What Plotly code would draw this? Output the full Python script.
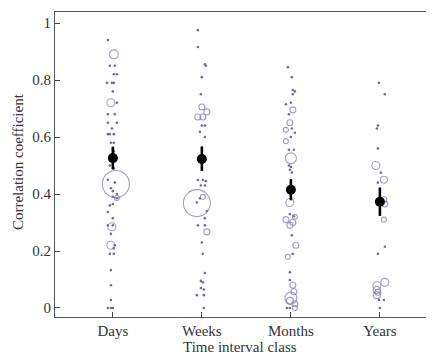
import plotly.graph_objects as go

categories = ["Days", "Weeks", "Months", "Years"]

# mean correlation per class and its error half-width
means = [0.526, 0.523, 0.415, 0.373]
errors = [0.040, 0.042, 0.037, 0.050]

# individual studies shown as small dots (value, jitter in category units)
days_dot_r = [0.94, 0.85, 0.85, 0.82, 0.82, 0.79, 0.79, 0.79, 0.76, 0.72, 0.68, 0.68, 0.65, 0.65,
              0.63, 0.61, 0.61, 0.61, 0.58, 0.58, 0.555, 0.55, 0.50, 0.49, 0.45, 0.42, 0.41, 0.44,
              0.40, 0.39, 0.385, 0.36, 0.365, 0.337, 0.315, 0.29, 0.29, 0.26, 0.22, 0.21, 0.19, 0.19,
              0.133, 0.08, 0.028, 0.0, 0.0, 0.0]
days_dot_j = [-0.056, -0.034, 0.022, 0.011, 0.045, -0.067, -0.011, 0.011, 0.0, 0.045, -0.056, 0.022,
              -0.056, 0.045, -0.011, -0.056, -0.034, 0.011, -0.022, 0.011, 0.0, 0.011, -0.034, 0.011,
              -0.056, -0.022, 0.0, 0.022, 0.045, 0.0, 0.045, -0.034, 0.0, -0.056, 0.0, -0.056, 0.0,
              -0.022, 0.022, 0.011, -0.034, 0.011, -0.022, -0.022, -0.022, -0.056, -0.022, 0.0]
days_circ_r = [0.89, 0.72, 0.435, 0.386, 0.285, 0.22]
days_circ_j = [0.011, -0.022, 0.034, 0.045, -0.011, -0.022]
days_circ_n = [9, 8, 27, 5, 8, 8]

weeks_dot_r = [0.975, 0.916, 0.855, 0.85, 0.81, 0.75, 0.64, 0.64, 0.618, 0.60, 0.565, 0.449, 0.449,
               0.445, 0.43, 0.43, 0.37, 0.385, 0.34, 0.315, 0.29, 0.29, 0.23, 0.19, 0.123, 0.095,
               0.09, 0.07, 0.065, 0.045, 0.045, 0.0]
weeks_dot_j = [-0.045, -0.045, 0.034, 0.045, 0.0, -0.011, 0.0, 0.034, -0.022, 0.034, 0.0, -0.045,
               0.011, 0.045, -0.011, 0.034, -0.056, -0.022, 0.056, 0.034, -0.045, 0.034, 0.0, 0.011,
               0.034, -0.011, 0.011, -0.011, 0.022, -0.056, 0.022, 0.022]
weeks_circ_r = [0.705, 0.688, 0.67, 0.67, 0.368, 0.39, 0.267]
weeks_circ_j = [0.0, 0.056, -0.045, 0.011, -0.056, 0.011, 0.056]
weeks_circ_n = [6, 6, 6, 6, 27, 5, 6]

months_dot_r = [0.845, 0.81, 0.765, 0.76, 0.75, 0.715, 0.72, 0.68, 0.63, 0.615, 0.60, 0.555, 0.555,
                0.50, 0.495, 0.485, 0.475, 0.33, 0.322, 0.255, 0.19, 0.125, 0.098, 0.0, 0.0]
months_dot_j = [-0.034, 0.011, 0.022, 0.045, 0.022, -0.056, 0.0, -0.022, 0.011, 0.045, 0.0, -0.022,
                0.034, -0.022, 0.0, -0.011, 0.011, -0.011, 0.034, 0.011, 0.022, -0.011, -0.011,
                -0.045, -0.011]
months_circ_r = [0.695, 0.65, 0.625, 0.585, 0.525, 0.37, 0.31, 0.29, 0.30, 0.32, 0.22, 0.18, 0.08,
                 0.057, 0.035, 0.025, 0.015, 0.0]
months_circ_j = [0.022, -0.011, -0.056, -0.056, 0.0, -0.011, -0.056, -0.011, 0.022, 0.045, 0.056,
                 -0.034, 0.022, 0.034, 0.0, -0.011, 0.045, 0.045]
months_circ_n = [6, 6, 5, 5, 11, 8, 6, 6, 6, 5, 6, 5, 6, 6, 12, 7, 6, 5]

years_dot_r = [0.79, 0.75, 0.64, 0.63, 0.56, 0.475, 0.44, 0.215, 0.19, 0.028, 0.028, 0.0]
years_dot_j = [-0.011, 0.056, -0.022, -0.034, -0.022, 0.011, -0.022, 0.056, -0.022, -0.011, 0.045, 0.0]
years_circ_r = [0.50, 0.45, 0.38, 0.365, 0.31, 0.09, 0.078, 0.063, 0.055, 0.045]
years_circ_j = [-0.045, 0.045, 0.045, 0.056, 0.045, 0.056, -0.034, -0.034, -0.022, -0.034]
years_circ_n = [8, 7, 6, 6, 5, 8, 8, 7, 6, 7]

y_ticks = [0, 0.2, 0.4, 0.6, 0.8, 1]
y_tick_labels = ["0", "0.2", "0.4", "0.6", "0.8", "1"]

x_title = "Time interval class"
y_title = "Correlation coefficient"

groups = [
    (days_dot_r, days_dot_j, days_circ_r, days_circ_j, days_circ_n),
    (weeks_dot_r, weeks_dot_j, weeks_circ_r, weeks_circ_j, weeks_circ_n),
    (months_dot_r, months_dot_j, months_circ_r, months_circ_j, months_circ_n),
    (years_dot_r, years_dot_j, years_circ_r, years_circ_j, years_circ_n),
]

DOT_COLOR = "#6c6ca6"
CIRC_COLOR = "#7676b2"
FONT = "Liberation Serif, Times New Roman, serif"
TXT = "#333333"

fig = go.Figure()
for i, (dr, dj, cr, cj, cn) in enumerate(groups):
    pos = i + 1
    fig.add_trace(go.Scatter(
        x=[pos + j for j in dj], y=dr, mode="markers",
        marker=dict(size=2.6, color=DOT_COLOR, line=dict(width=0)),
        hoverinfo="skip", showlegend=False))
    fig.add_trace(go.Scatter(
        x=[pos + j for j in cj], y=cr, mode="markers",
        marker=dict(size=cn, symbol="circle-open", color=CIRC_COLOR,
                    line=dict(width=1.1, color=CIRC_COLOR)),
        hoverinfo="skip", showlegend=False))

fig.add_trace(go.Scatter(
    x=[1, 2, 3, 4], y=means, mode="markers",
    marker=dict(size=10, color="black"),
    error_y=dict(type="data", array=errors, visible=True, color="black", thickness=2.6, width=0),
    showlegend=False))

# page body has an 8px default margin, so the figure is sized to fit the window
fig.update_layout(
    width=426, height=348,
    margin=dict(l=47, r=0, t=4, b=39, autoexpand=False),
    paper_bgcolor="white", plot_bgcolor="white",
    font=dict(family=FONT, size=15, color=TXT),
    xaxis=dict(
        range=[0.35, 4.608], tickmode="array", tickvals=[1, 2, 3, 4], ticktext=categories,
        ticks="inside", ticklen=5, tickcolor="#444", showline=True, mirror=True,
        linecolor="#555", linewidth=1.2, showgrid=False, zeroline=False, automargin=False,
        tickfont=dict(size=15, family=FONT, color=TXT),
    ),
    yaxis=dict(
        range=[-0.0316, 1.0386], tickmode="array", tickvals=y_ticks, ticktext=y_tick_labels,
        ticks="inside", ticklen=5, tickcolor="#444", showline=True, mirror=False,
        linecolor="#555", linewidth=1.2, showgrid=False, zeroline=False, automargin=False,
        tickfont=dict(size=15, family=FONT, color=TXT),
    ),
    annotations=[
        dict(text=x_title, xref="paper", yref="paper", x=0.488, y=0, yshift=-30,
             xanchor="center", yanchor="middle", showarrow=False,
             font=dict(size=15, family=FONT, color=TXT)),
        dict(text=y_title, xref="paper", yref="paper", x=0, y=0.508, xshift=-37,
             xanchor="center", yanchor="middle", textangle=-90, showarrow=False,
             font=dict(size=15, family=FONT, color=TXT)),
    ],
)

fig.write_html("out.html")
